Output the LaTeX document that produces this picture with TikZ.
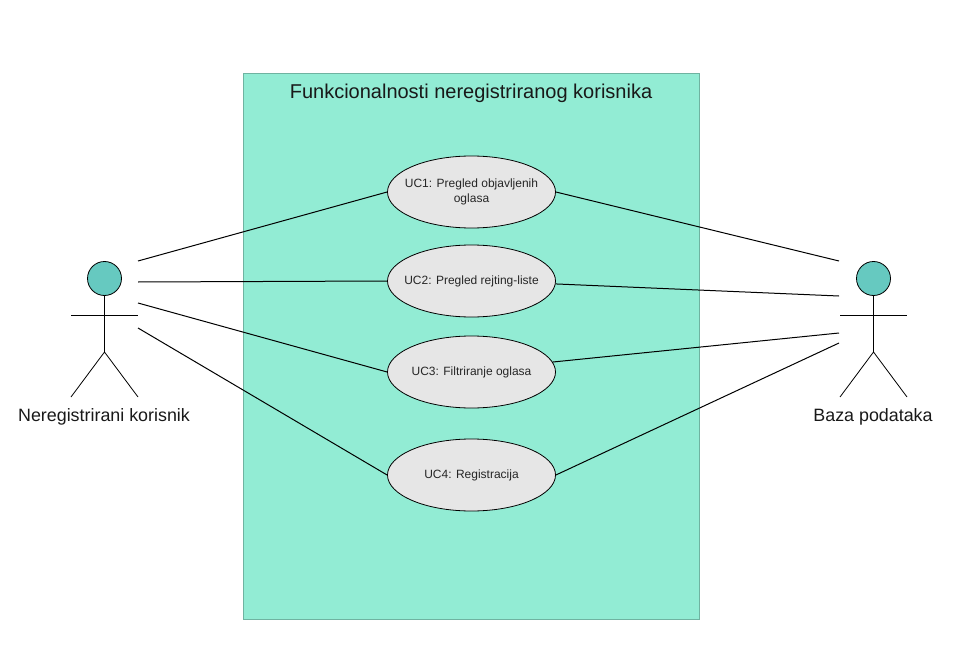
\documentclass[tikz,border=0pt]{standalone}
\usepackage{fontspec}
\setmainfont{Liberation Sans}
\definecolor{panelfill}{HTML}{92ECD4}
\definecolor{paneledge}{HTML}{6FB3A1}
\definecolor{headfill}{HTML}{66C9C0}
\definecolor{casefill}{HTML}{E6E6E6}
\tikzset{
  usecase/.style={draw,ellipse,fill=casefill,minimum width=126pt,minimum height=54pt,inner xsep=-20pt,inner ysep=0pt,
    align=center,font=\fontsize{9}{11.25}\selectfont,text=black!85},
  head/.style={draw,circle,fill=headfill,minimum size=25.5pt,inner sep=0pt},
  biglabel/.style={font=\fontsize{13.4}{16}\selectfont,text=black!90},
  link/.style={line width=.75pt}
}
\usetikzlibrary{shapes.geometric}
\begin{document}
\begin{tikzpicture}[x=.75pt,y=-.75pt,line width=.6pt]
   \useasboundingbox (0,0) rectangle (955,659);
   \node [draw=paneledge,fill=panelfill,minimum width=342pt,minimum height=409.5pt,inner sep=0pt] (panel) at (471,346) {};
   \node [biglabel,font=\fontsize{15}{18}\selectfont] (title) at (471,93.5) {Funkcionalnosti neregistriranog korisnika};
   % use cases
   \node [usecase] (uc1) at (471.5,192) {UC1: Pregled objavljenih\\oglasa};
   \node [usecase] (uc2) at (471.5,281) {UC2: Pregled rejting-liste};
   \node [usecase] (uc3) at (471.5,372) {UC3: Filtriranje oglasa};
   \node [usecase] (uc4) at (471.5,475) {UC4: Registracija};
   % left actor
   \node [head] (headL) at (104.5,278.5) {};
   \coordinate (hipL) at (104.5,352);
   \coordinate (armLa) at (71,315);
   \coordinate (armLb) at (138,315);
   \coordinate (footLa) at (71,397);
   \coordinate (footLb) at (138,397);
   \draw (headL)--(hipL);
   \draw (armLa)--(armLb);
   \draw (footLa)--(hipL)--(footLb);
   \node [biglabel] (nameL) at (104,417) {Neregistrirani korisnik};
   % right actor
   \node [head] (headR) at (873.5,278.5) {};
   \coordinate (hipR) at (873.5,352);
   \coordinate (armRa) at (840,315);
   \coordinate (armRb) at (907,315);
   \coordinate (footRa) at (840,397);
   \coordinate (footRb) at (907,397);
   \draw (headR)--(hipR);
   \draw (armRa)--(armRb);
   \draw (footRa)--(hipR)--(footRb);
   \node [biglabel] (nameR) at (873,417) {Baza podataka};
   % free ends
   \coordinate (la) at (138,261);
   \coordinate (lb) at (138,282);
   \coordinate (lc) at (138,303);
   \coordinate (ld) at (138,328);
   \coordinate (ra) at (839,261);
   \coordinate (rb) at (839,296);
   \coordinate (rc) at (839,333);
   \coordinate (rd) at (839,343);
   \draw [link] (la)--(uc1.west);
   \draw [link] (lb)--(uc2.west);
   \draw [link] (lc)--(uc3.west);
   \draw [link] (ld)--(uc4.west);
   \draw [link] (uc1.east)--(ra);
   \draw [link] (uc2.-2)--(rb);
   \draw [link] (uc3.7)--(rc);
   \draw [link] (uc4.east)--(rd);
\end{tikzpicture}
\end{document}
